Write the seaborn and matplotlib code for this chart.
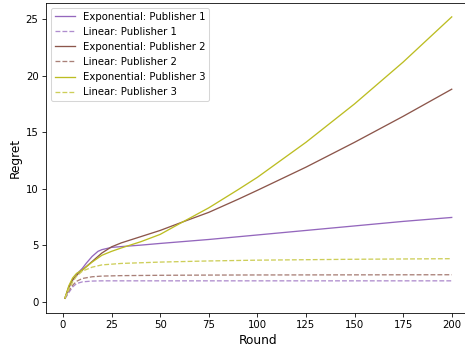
import pandas as pd
import numpy as np

import seaborn as sns
import matplotlib.pyplot as plt

# values at sample rounds
exp_p1_rounds = [1, 3, 5, 8, 10, 12, 15, 18, 20, 25, 30, 40, 50, 75, 100, 125, 150, 175, 200]
exp_p1 = [0.3, 1.2, 1.9, 2.6, 2.95, 3.4, 4.0, 4.45, 4.6, 4.8, 4.87, 5.0, 5.15, 5.5, 5.9, 6.3, 6.7, 7.1, 7.45]

exp_p2_rounds = [1, 3, 5, 8, 10, 15, 20, 25, 30, 40, 50, 60, 75, 90, 100, 125, 150, 175, 200]
exp_p2 = [0.3, 1.3, 1.95, 2.5, 2.8, 3.55, 4.3, 4.85, 5.2, 5.75, 6.3, 6.95, 7.9, 9.05, 9.85, 11.9, 14.1, 16.4, 18.8]

exp_p3_rounds = [1, 3, 5, 7, 10, 15, 20, 25, 30, 40, 50, 60, 75, 90, 100, 125, 150, 175, 200]
exp_p3 = [0.3, 1.4, 2.1, 2.5, 2.8, 3.5, 4.1, 4.45, 4.75, 5.3, 5.95, 6.9, 8.3, 9.9, 11.0, 14.1, 17.5, 21.2, 25.2]

lin_rounds = [1, 3, 5, 7, 10, 15, 20, 30, 50, 75, 100, 150, 200]
lin_p1 = [0.25, 0.8, 1.3, 1.6, 1.75, 1.82, 1.84, 1.84, 1.84, 1.84, 1.84, 1.84, 1.84]
lin_p2 = [0.3, 0.95, 1.45, 1.8, 2.05, 2.2, 2.26, 2.3, 2.33, 2.35, 2.36, 2.37, 2.38]
lin_p3 = [0.3, 1.1, 1.75, 2.25, 2.7, 3.05, 3.25, 3.38, 3.5, 3.6, 3.67, 3.75, 3.8]

publishers = ['Publisher 1', 'Publisher 2', 'Publisher 3']
colors = ['#9467bd', '#8c564b', '#bcbd22']

frames = []
for i, (er, ev, lv) in enumerate([(exp_p1_rounds, exp_p1, lin_p1),
                                  (exp_p2_rounds, exp_p2, lin_p2),
                                  (exp_p3_rounds, exp_p3, lin_p3)]):
    frames.append(pd.DataFrame({'Round': er, 'Regret': ev,
                                'series': 'Exponential: ' + publishers[i]}))
    frames.append(pd.DataFrame({'Round': lin_rounds, 'Regret': lv,
                                'series': 'Linear: ' + publishers[i]}))
df = pd.concat(frames, ignore_index=True)
order = list(df['series'].unique())


def lighten(c, a=0.75):
    r, g, b = plt.matplotlib.colors.to_rgb(c)
    return (1 - a + a * r, 1 - a + a * g, 1 - a + a * b)


palette = {}
dashes = {}
for i, p in enumerate(publishers):
    palette['Exponential: ' + p] = colors[i]
    palette['Linear: ' + p] = lighten(colors[i])
    dashes['Exponential: ' + p] = ''
    dashes['Linear: ' + p] = (3.7, 1.6)

fig = plt.figure(figsize=(6.4, 4.817), dpi=72.66)
ax = fig.add_axes([0.098, 0.106, 0.915, 0.886])

sns.lineplot(data=df, x='Round', y='Regret', hue='series', style='series',
             hue_order=order, style_order=order, palette=palette, dashes=dashes,
             linewidth=1.3, ax=ax)

ax.set_xlabel('Round', fontsize=12)
ax.set_ylabel('Regret', fontsize=12)
ax.set_xticks([0, 25, 50, 75, 100, 125, 150, 175, 200])
ax.spines['right'].set_visible(False)
ax.legend(loc='upper left', title=None)

plt.savefig('out.png', dpi=72.66)
